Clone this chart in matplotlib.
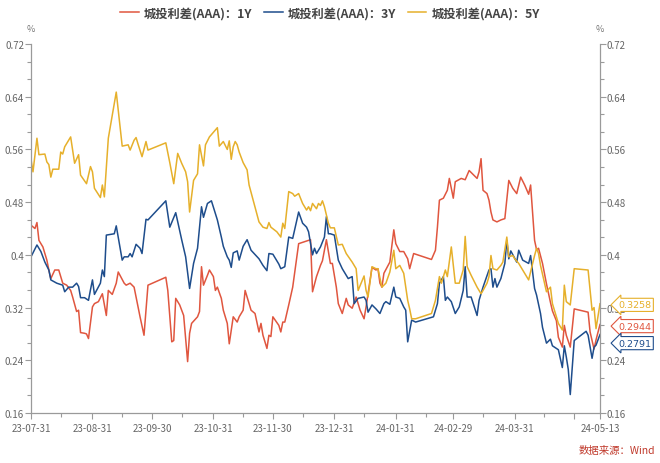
import matplotlib
matplotlib.use('Agg')
import matplotlib.pyplot as plt
from matplotlib.ticker import AutoMinorLocator
import pandas as pd

plt.rcParams['font.family'] = ['Noto Sans CJK SC', 'DejaVu Sans']

series_names = ['城投利差(AAA)：1Y', '城投利差(AAA)：3Y', '城投利差(AAA)：5Y']
colors = ['#E0563F', '#1E4D8C', '#E6B02B']

# 1Y
dates_1y = [
    '23-07-31', '23-08-02', '23-08-03', '23-08-04', '23-08-06', '23-08-08', '23-08-09', '23-08-10', '23-08-12', '23-08-14',
    '23-08-16', '23-08-18', '23-08-20', '23-08-21', '23-08-23', '23-08-24', '23-08-25', '23-08-27', '23-08-28', '23-08-29',
    '23-08-31', '23-09-01', '23-09-03', '23-09-05', '23-09-07', '23-09-08', '23-09-10', '23-09-12', '23-09-13', '23-09-16',
    '23-09-17', '23-09-19', '23-09-21', '23-09-22', '23-09-24', '23-09-26', '23-09-28', '23-10-07', '23-10-08', '23-10-10',
    '23-10-11', '23-10-12', '23-10-14', '23-10-16', '23-10-18', '23-10-19', '23-10-20', '23-10-23', '23-10-24', '23-10-25',
    '23-10-26', '23-10-28', '23-10-29', '23-10-31', '23-11-01', '23-11-02', '23-11-04', '23-11-05', '23-11-07', '23-11-08',
    '23-11-10', '23-11-12', '23-11-13', '23-11-15', '23-11-16', '23-11-18', '23-11-19', '23-11-21', '23-11-23', '23-11-24',
    '23-11-25', '23-11-27', '23-11-28', '23-11-29', '23-11-30', '23-12-03', '23-12-04', '23-12-05', '23-12-06', '23-12-08',
    '23-12-10', '23-12-13', '23-12-17', '23-12-19', '23-12-20', '23-12-22', '23-12-24', '23-12-25', '23-12-27', '23-12-29',
    '23-12-30', '24-01-01', '24-01-02', '24-01-04', '24-01-06', '24-01-07', '24-01-09', '24-01-11', '24-01-13', '24-01-15',
    '24-01-16', '24-01-19', '24-01-21', '24-01-22', '24-01-23', '24-01-24', '24-01-25', '24-01-28', '24-01-30', '24-01-31',
    '24-02-02', '24-02-04', '24-02-06', '24-02-07', '24-02-09', '24-02-18', '24-02-20', '24-02-21', '24-02-22', '24-02-24',
    '24-02-26', '24-02-27', '24-02-29', '24-03-01', '24-03-04', '24-03-06', '24-03-08', '24-03-10', '24-03-12', '24-03-13',
    '24-03-14', '24-03-15', '24-03-17', '24-03-18', '24-03-19', '24-03-20', '24-03-22', '24-03-24', '24-03-26', '24-03-28',
    '24-03-30', '24-04-01', '24-04-03', '24-04-05', '24-04-07', '24-04-08', '24-04-10', '24-04-11', '24-04-12', '24-04-14',
    '24-04-16', '24-04-18', '24-04-19', '24-04-21', '24-04-22', '24-04-24', '24-04-25', '24-04-26', '24-04-28', '24-04-30',
    '24-05-07', '24-05-08', '24-05-10', '24-05-11', '24-05-13']
values_1y = [
    0.445, 0.440, 0.449, 0.422, 0.412, 0.392, 0.377, 0.364, 0.377, 0.377,
    0.357, 0.354, 0.346, 0.336, 0.314, 0.316, 0.282, 0.281, 0.280, 0.273,
    0.321, 0.326, 0.329, 0.341, 0.308, 0.346, 0.340, 0.357, 0.374, 0.357,
    0.354, 0.357, 0.351, 0.336, 0.306, 0.278, 0.354, 0.366, 0.346, 0.268,
    0.270, 0.334, 0.324, 0.308, 0.238, 0.281, 0.296, 0.306, 0.314, 0.382,
    0.354, 0.369, 0.377, 0.367, 0.346, 0.351, 0.334, 0.316, 0.296, 0.265,
    0.306, 0.298, 0.306, 0.316, 0.346, 0.326, 0.316, 0.311, 0.283, 0.296,
    0.278, 0.258, 0.278, 0.276, 0.306, 0.293, 0.283, 0.298, 0.298, 0.324,
    0.351, 0.417, 0.421, 0.423, 0.344, 0.367, 0.384, 0.391, 0.423, 0.387,
    0.387, 0.351, 0.326, 0.311, 0.334, 0.324, 0.319, 0.336, 0.316, 0.303,
    0.321, 0.381, 0.377, 0.379, 0.357, 0.351, 0.372, 0.389, 0.438, 0.417,
    0.405, 0.405, 0.394, 0.379, 0.402, 0.393, 0.407, 0.442, 0.483, 0.486,
    0.498, 0.516, 0.486, 0.511, 0.516, 0.514, 0.528, 0.522, 0.516, 0.526,
    0.546, 0.498, 0.493, 0.483, 0.465, 0.453, 0.450, 0.453, 0.455, 0.513,
    0.501, 0.493, 0.518, 0.506, 0.492, 0.506, 0.422, 0.408, 0.410, 0.387,
    0.356, 0.328, 0.315, 0.300, 0.275, 0.260, 0.293, 0.278, 0.260, 0.318,
    0.313, 0.283, 0.257, 0.271, 0.2944]

# 3Y
dates_3y = [
    '23-07-31', '23-08-03', '23-08-05', '23-08-07', '23-08-09', '23-08-10', '23-08-13', '23-08-16', '23-08-17', '23-08-19',
    '23-08-21', '23-08-23', '23-08-24', '23-08-25', '23-08-27', '23-08-29', '23-08-30', '23-08-31', '23-09-01', '23-09-04',
    '23-09-05', '23-09-06', '23-09-07', '23-09-11', '23-09-12', '23-09-15', '23-09-16', '23-09-18', '23-09-19', '23-09-20',
    '23-09-22', '23-09-24', '23-09-25', '23-09-27', '23-09-28', '23-10-07', '23-10-09', '23-10-12', '23-10-15', '23-10-17',
    '23-10-19', '23-10-21', '23-10-23', '23-10-25', '23-10-26', '23-10-28', '23-10-30', '23-11-02', '23-11-04', '23-11-05',
    '23-11-07', '23-11-08', '23-11-09', '23-11-10', '23-11-12', '23-11-13', '23-11-15', '23-11-17', '23-11-19', '23-11-23',
    '23-11-25', '23-11-27', '23-11-28', '23-11-30', '23-12-03', '23-12-04', '23-12-06', '23-12-08', '23-12-10', '23-12-13',
    '23-12-15', '23-12-17', '23-12-18', '23-12-20', '23-12-21', '23-12-22', '23-12-24', '23-12-26', '23-12-27', '23-12-28',
    '23-12-29', '23-12-31', '24-01-02', '24-01-04', '24-01-05', '24-01-07', '24-01-09', '24-01-10', '24-01-12', '24-01-15',
    '24-01-16', '24-01-17', '24-01-19', '24-01-21', '24-01-23', '24-01-25', '24-01-26', '24-01-28', '24-01-30', '24-01-31',
    '24-02-02', '24-02-04', '24-02-05', '24-02-06', '24-02-08', '24-02-10', '24-02-19', '24-02-21', '24-02-22', '24-02-24',
    '24-02-25', '24-02-26', '24-02-28', '24-03-01', '24-03-03', '24-03-05', '24-03-06', '24-03-07', '24-03-09', '24-03-12',
    '24-03-13', '24-03-15', '24-03-18', '24-03-19', '24-03-20', '24-03-21', '24-03-22', '24-03-24', '24-03-26', '24-03-27',
    '24-03-28', '24-03-29', '24-04-01', '24-04-02', '24-04-04', '24-04-07', '24-04-08', '24-04-10', '24-04-11', '24-04-13',
    '24-04-14', '24-04-16', '24-04-18', '24-04-19', '24-04-22', '24-04-24', '24-04-25', '24-04-26', '24-04-27', '24-04-28',
    '24-04-30', '24-05-06', '24-05-07', '24-05-09', '24-05-10', '24-05-11', '24-05-13']
values_3y = [
    0.397, 0.415, 0.405, 0.389, 0.377, 0.362, 0.357, 0.354, 0.344, 0.351,
    0.351, 0.357, 0.352, 0.335, 0.335, 0.331, 0.347, 0.362, 0.340, 0.357,
    0.377, 0.367, 0.430, 0.432, 0.444, 0.392, 0.397, 0.397, 0.402, 0.397,
    0.416, 0.410, 0.402, 0.454, 0.453, 0.482, 0.442, 0.464, 0.423, 0.397,
    0.349, 0.387, 0.410, 0.473, 0.457, 0.478, 0.482, 0.453, 0.427, 0.413,
    0.397, 0.392, 0.381, 0.403, 0.406, 0.392, 0.413, 0.423, 0.407, 0.394,
    0.384, 0.376, 0.402, 0.401, 0.386, 0.379, 0.382, 0.427, 0.425, 0.465,
    0.448, 0.442, 0.435, 0.400, 0.410, 0.402, 0.412, 0.427, 0.458, 0.432,
    0.432, 0.430, 0.392, 0.379, 0.374, 0.364, 0.367, 0.326, 0.334, 0.336,
    0.331, 0.313, 0.324, 0.318, 0.311, 0.326, 0.329, 0.325, 0.351, 0.336,
    0.334, 0.321, 0.316, 0.268, 0.301, 0.298, 0.306, 0.326, 0.357, 0.367,
    0.331, 0.336, 0.329, 0.311, 0.321, 0.346, 0.382, 0.336, 0.336, 0.308,
    0.331, 0.351, 0.377, 0.379, 0.351, 0.364, 0.351, 0.364, 0.387, 0.422,
    0.394, 0.406, 0.389, 0.407, 0.392, 0.387, 0.399, 0.349, 0.339, 0.311,
    0.290, 0.266, 0.272, 0.262, 0.256, 0.229, 0.262, 0.245, 0.226, 0.188,
    0.270, 0.284, 0.278, 0.243, 0.260, 0.263, 0.2791]

# 5Y
dates_5y = [
    '23-07-31', '23-08-01', '23-08-03', '23-08-04', '23-08-07', '23-08-08', '23-08-09', '23-08-10', '23-08-11', '23-08-14',
    '23-08-15', '23-08-16', '23-08-17', '23-08-20', '23-08-22', '23-08-24', '23-08-25', '23-08-28', '23-08-30', '23-08-31',
    '23-09-01', '23-09-04', '23-09-05', '23-09-06', '23-09-08', '23-09-12', '23-09-15', '23-09-18', '23-09-19', '23-09-21',
    '23-09-22', '23-09-23', '23-09-25', '23-09-27', '23-09-28', '23-10-07', '23-10-09', '23-10-11', '23-10-13', '23-10-15',
    '23-10-17', '23-10-18', '23-10-19', '23-10-21', '23-10-23', '23-10-24', '23-10-26', '23-10-27', '23-10-29', '23-11-02',
    '23-11-03', '23-11-05', '23-11-07', '23-11-08', '23-11-09', '23-11-10', '23-11-11', '23-11-12', '23-11-13', '23-11-15',
    '23-11-17', '23-11-18', '23-11-23', '23-11-25', '23-11-27', '23-11-28', '23-11-29', '23-12-02', '23-12-04', '23-12-05',
    '23-12-06', '23-12-08', '23-12-10', '23-12-11', '23-12-13', '23-12-15', '23-12-17', '23-12-18', '23-12-19', '23-12-20',
    '23-12-22', '23-12-23', '23-12-24', '23-12-25', '23-12-26', '23-12-28', '23-12-29', '23-12-31', '24-01-02', '24-01-04',
    '24-01-06', '24-01-09', '24-01-11', '24-01-12', '24-01-15', '24-01-16', '24-01-17', '24-01-19', '24-01-21', '24-01-22',
    '24-01-24', '24-01-26', '24-01-28', '24-01-30', '24-01-31', '24-02-02', '24-02-04', '24-02-06', '24-02-07', '24-02-08',
    '24-02-10', '24-02-18', '24-02-20', '24-02-22', '24-02-23', '24-02-25', '24-02-26', '24-02-27', '24-02-28', '24-03-01',
    '24-03-03', '24-03-05', '24-03-06', '24-03-07', '24-03-09', '24-03-12', '24-03-14', '24-03-15', '24-03-17', '24-03-18',
    '24-03-19', '24-03-20', '24-03-22', '24-03-24', '24-03-25', '24-03-27', '24-03-28', '24-03-30', '24-03-31', '24-04-02',
    '24-04-04', '24-04-07', '24-04-10', '24-04-11', '24-04-12', '24-04-13', '24-04-15', '24-04-16', '24-04-18', '24-04-19',
    '24-04-22', '24-04-24', '24-04-25', '24-04-26', '24-04-28', '24-04-30', '24-05-07', '24-05-08', '24-05-09', '24-05-10',
    '24-05-11', '24-05-13']
values_5y = [
    0.545, 0.526, 0.577, 0.552, 0.553, 0.541, 0.537, 0.518, 0.530, 0.530,
    0.556, 0.553, 0.564, 0.579, 0.539, 0.552, 0.521, 0.508, 0.534, 0.526,
    0.501, 0.487, 0.506, 0.488, 0.577, 0.647, 0.565, 0.567, 0.559, 0.574,
    0.578, 0.568, 0.549, 0.572, 0.559, 0.570, 0.540, 0.508, 0.554, 0.539,
    0.526, 0.511, 0.465, 0.513, 0.523, 0.567, 0.535, 0.567, 0.579, 0.593,
    0.565, 0.572, 0.560, 0.573, 0.545, 0.564, 0.572, 0.567, 0.556, 0.540,
    0.529, 0.506, 0.450, 0.442, 0.440, 0.449, 0.442, 0.435, 0.427, 0.448,
    0.440, 0.496, 0.493, 0.489, 0.493, 0.478, 0.468, 0.473, 0.467, 0.478,
    0.470, 0.478, 0.475, 0.482, 0.473, 0.448, 0.441, 0.441, 0.415, 0.416,
    0.402, 0.389, 0.379, 0.346, 0.368, 0.346, 0.336, 0.382, 0.379, 0.379,
    0.351, 0.357, 0.374, 0.407, 0.379, 0.384, 0.372, 0.331, 0.318, 0.303,
    0.303, 0.311, 0.331, 0.367, 0.357, 0.377, 0.367, 0.389, 0.412, 0.357,
    0.357, 0.377, 0.428, 0.382, 0.369, 0.351, 0.341, 0.346, 0.357, 0.367,
    0.399, 0.379, 0.377, 0.384, 0.389, 0.427, 0.397, 0.399, 0.394, 0.387,
    0.377, 0.362, 0.399, 0.410, 0.402, 0.384, 0.357, 0.344, 0.351, 0.326,
    0.296, 0.286, 0.354, 0.329, 0.324, 0.379, 0.377, 0.346, 0.316, 0.320,
    0.288, 0.3258]

x_ticks = ['23-07-31', '23-08-31', '23-09-30', '23-10-31', '23-11-30', '23-12-31',
           '24-01-31', '24-02-29', '24-03-31', '24-04-30', '24-05-13']
x_tick_labels = ['23-07-31', '23-08-31', '23-09-30', '23-10-31', '23-11-30', '23-12-31',
                 '24-01-31', '24-02-29', '24-03-31', '', '24-05-13']
x_minor = ['23-08-15', '23-09-15', '23-10-15', '23-11-15', '23-12-15', '24-01-15',
           '24-02-15', '24-03-15', '24-04-15']
y_ticks = [0.16, 0.24, 0.32, 0.4, 0.48, 0.56, 0.64, 0.72]
y_tick_labels = ['0.16', '0.24', '0.32', '0.4', '0.48', '0.56', '0.64', '0.72']


def to_dt(lst):
    return pd.to_datetime(lst, format='%y-%m-%d')


fig = plt.figure(figsize=(6.6, 4.64), dpi=100)
ax = fig.add_axes([31 / 660, 50 / 464, 569 / 660, 369 / 464])

series = [(dates_1y, values_1y), (dates_3y, values_3y), (dates_5y, values_5y)]
lines = []
for (d, v), name, c in zip(series, series_names, colors):
    ln, = ax.plot(to_dt(d), v, color=c, lw=1.1, label=name)
    lines.append(ln)

ax.set_xlim(to_dt(['23-07-31'])[0], to_dt(['24-05-13'])[0])
ax.set_ylim(0.16, 0.72)

ax.set_xticks(to_dt(x_ticks))
ax.set_xticklabels(x_tick_labels)
ax.set_xticks(to_dt(x_minor), minor=True)
ax.set_yticks(y_ticks)
ax.set_yticklabels(y_tick_labels)
ax.yaxis.set_minor_locator(AutoMinorLocator(3))

axis_gray = '#9a9a9a'
for side in ['left', 'right', 'bottom']:
    ax.spines[side].set_color(axis_gray)
    ax.spines[side].set_linewidth(0.9)
ax.spines['top'].set_visible(False)
ax.tick_params(axis='both', which='both', direction='out', color=axis_gray,
               labelcolor='#666666', labelsize=7, width=0.8)
ax.tick_params(axis='both', which='major', length=4)
ax.tick_params(axis='both', which='minor', length=3)
ax.tick_params(axis='y', which='both', left=True, right=True, labelleft=True, labelright=True, pad=1)
ax.tick_params(axis='x', pad=3)

fig.text(31 / 660, 1 - 30 / 464, '%', fontsize=6.5, color='#777777', ha='center', va='center')
fig.text(600 / 660, 1 - 30 / 464, '%', fontsize=6.5, color='#777777', ha='center', va='center')

# end value callouts, shifted apart so they do not overlap
label_shift = [-1.2, -6.2, -0.8]
for (d, v), c, dy in zip(series, colors, label_shift):
    ax.annotate(f'{v[-1]:.4f}', xy=(to_dt([d[-1]])[0], v[-1]), xytext=(25, dy),
                textcoords='offset points', ha='center', va='center', fontsize=6.8, color=c,
                family='DejaVu Sans', annotation_clip=False, zorder=5,
                bbox=dict(boxstyle='larrow,pad=0.22', fc='white', ec=c, lw=0.8))

fig.legend(handles=lines, loc='center', bbox_to_anchor=(0.5, 1 - 14 / 464), ncol=3,
           frameon=False, handlelength=1.5, handletextpad=0.4, columnspacing=1.0,
           prop={'size': 8.8, 'weight': 'bold'}, labelcolor='#444444')

fig.text(655 / 660, 13 / 464, '数据来源：Wind', fontsize=7.5, color='#C0392B', ha='right', va='center')

fig.savefig('out.png', dpi=100)
